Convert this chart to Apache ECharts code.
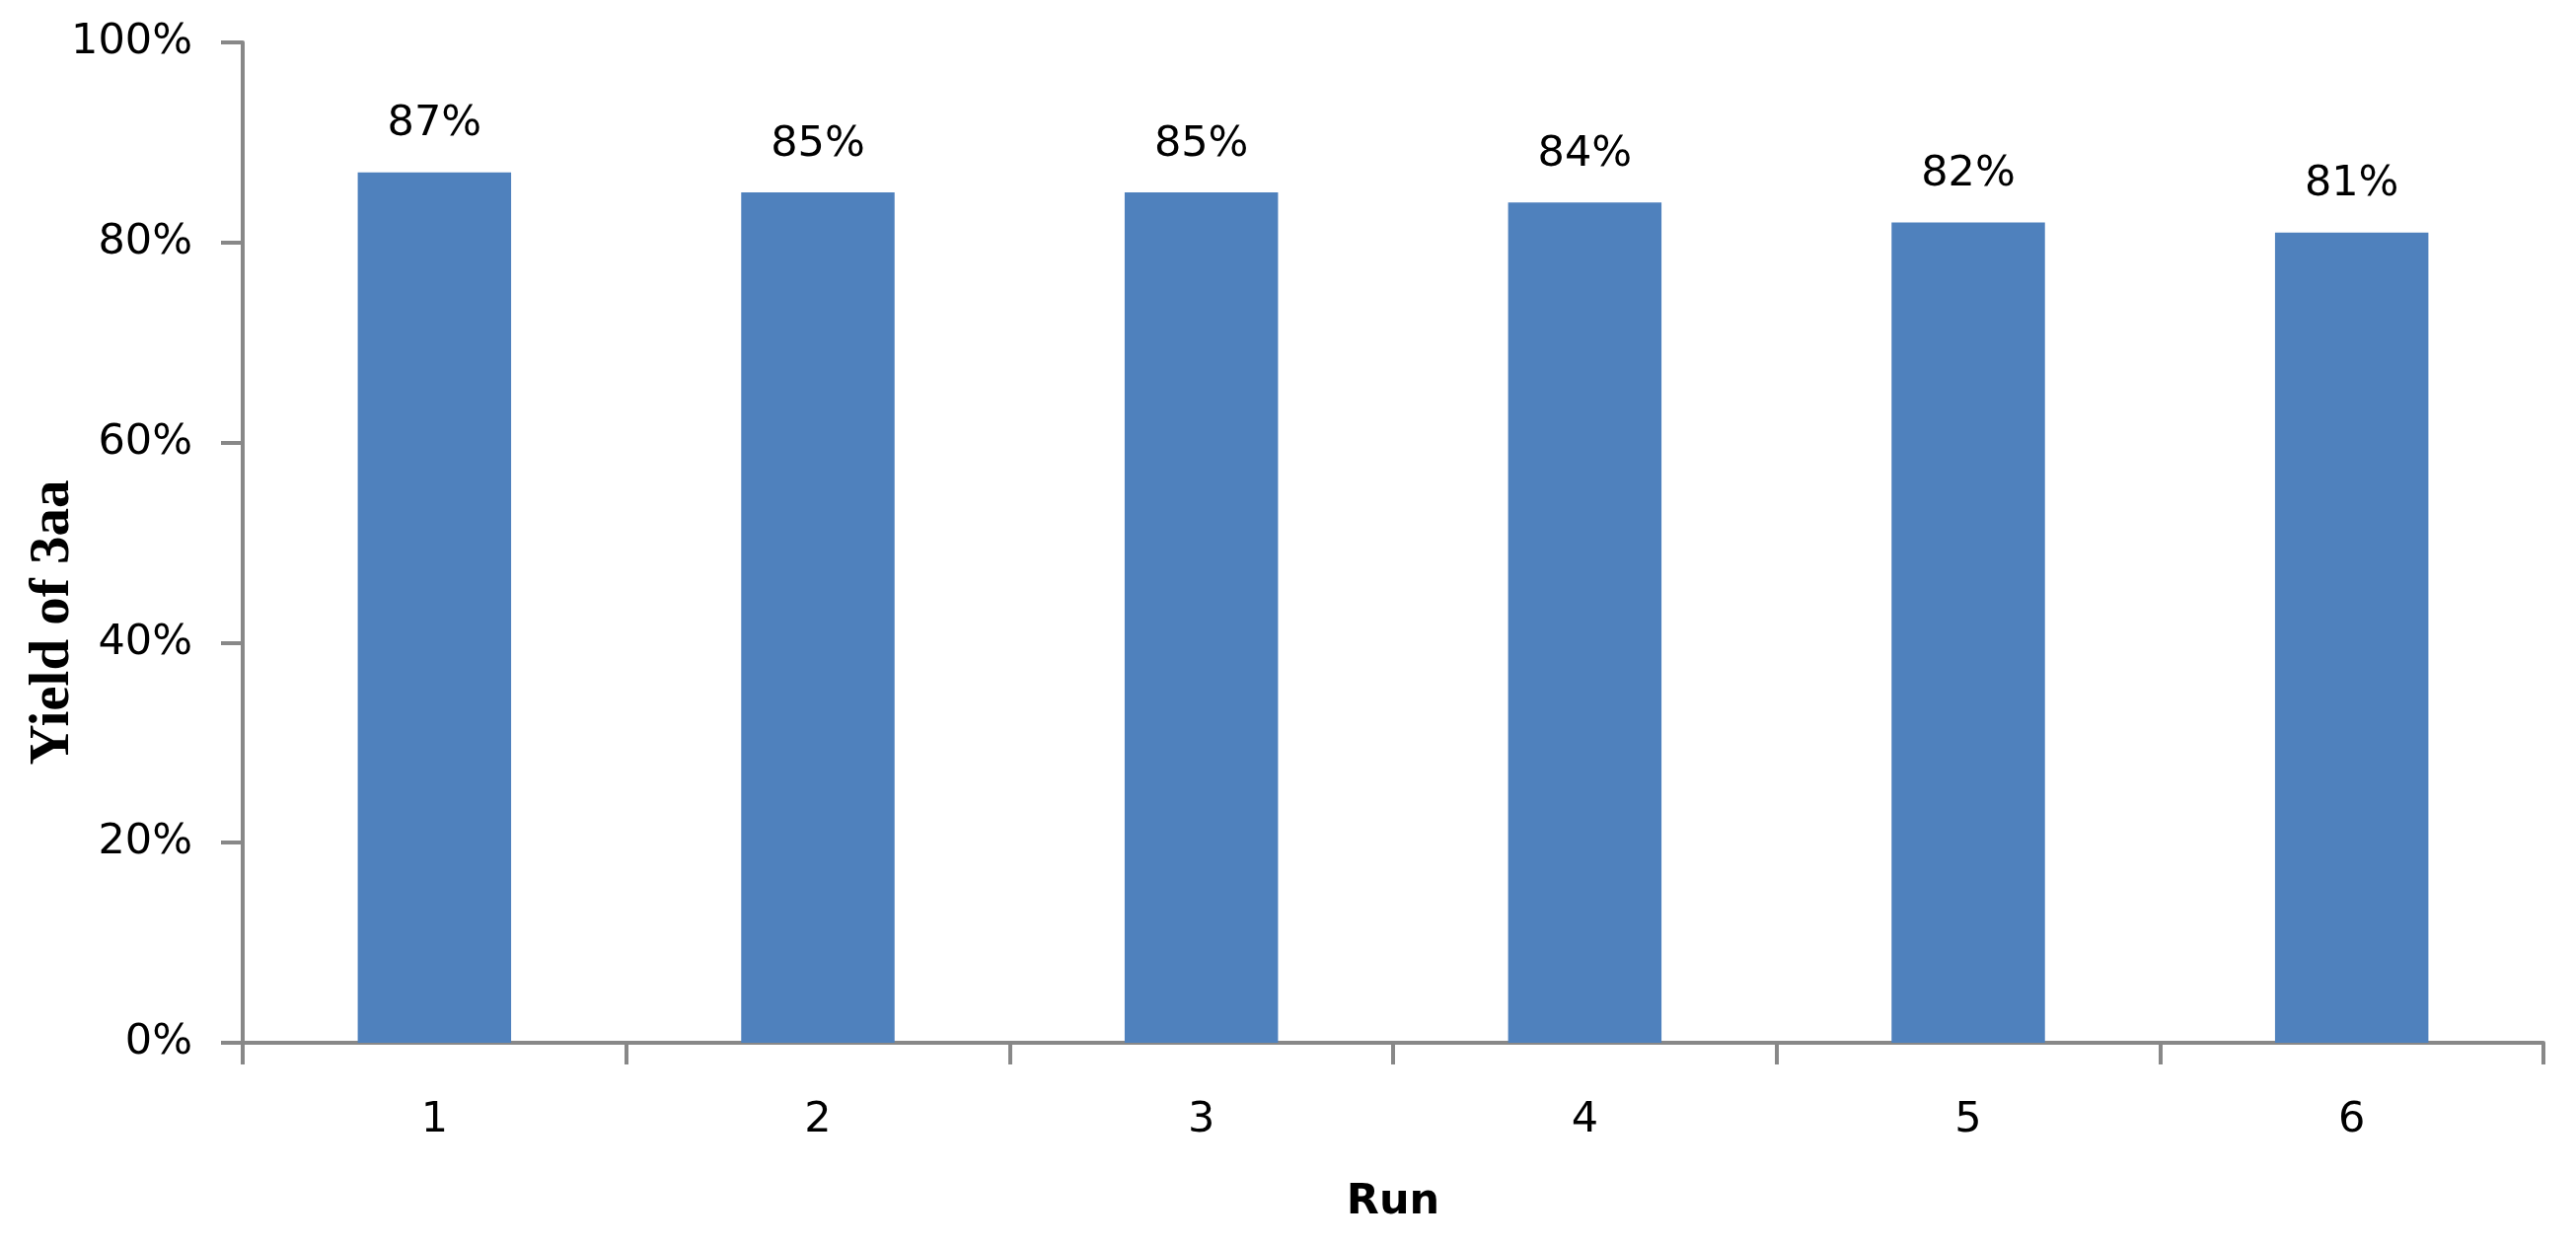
<!DOCTYPE html>
<html>
<head>
<meta charset="utf-8">
<script src="https://cdn.jsdelivr.net/npm/echarts@6/dist/echarts.min.js"></script>
<style>
html,body{margin:0;padding:0;background:#fff;}
#chart{width:2611px;height:1262px;}
</style>
</head>
<body>
<div id="chart"></div>
<script>
const categories = ['1', '2', '3', '4', '5', '6'];
const yields = [0.87, 0.85, 0.85, 0.84, 0.82, 0.81];
const yTicks = { min: 0, max: 1, interval: 0.2 };
const xTitle = 'Run';
const yTitle = 'Yield of 3aa';

const chart = echarts.init(document.getElementById('chart'));
const axisGrey = '#888888';
const pct = v => Math.round(v * 100) + '%';

chart.setOption({
  animation: false,
  backgroundColor: '#ffffff',
  grid: { left: 246, right: 33, top: 43, bottom: 205, containLabel: false },
  xAxis: {
    type: 'category',
    data: categories,
    boundaryGap: true,
    name: xTitle,
    nameLocation: 'middle',
    nameGap: 140,
    nameTextStyle: { fontFamily: 'DejaVu Sans', fontWeight: 'bold', fontSize: 43, color: '#000' },
    axisLine: { lineStyle: { color: axisGrey, width: 4 } },
    axisTick: { show: true, length: 22, lineStyle: { color: axisGrey, width: 4 } },
    axisLabel: { fontFamily: 'DejaVu Sans', fontSize: 43, color: '#000', margin: 57 },
    splitLine: { show: false }
  },
  yAxis: {
    type: 'value',
    min: yTicks.min,
    max: yTicks.max,
    interval: yTicks.interval,
    axisLine: { show: true, lineStyle: { color: axisGrey, width: 4 } },
    axisTick: { show: true, length: 22, lineStyle: { color: axisGrey, width: 4 } },
    axisLabel: { fontFamily: 'DejaVu Sans', fontSize: 43, color: '#000', margin: 51, formatter: pct },
    splitLine: { show: false }
  },
  graphic: [{
    type: 'text',
    left: 26,
    top: 'middle',
    rotation: Math.PI / 2,
    style: {
      text: yTitle,
      font: 'bold 57px "Liberation Serif"',
      fill: '#000',
      align: 'center',
      verticalAlign: 'middle'
    }
  }],
  series: [{
    type: 'bar',
    data: yields,
    barWidth: '40%',
    itemStyle: { color: '#4F81BD' },
    label: {
      show: true,
      position: 'top',
      distance: 27,
      formatter: p => pct(p.value),
      fontFamily: 'DejaVu Sans',
      fontSize: 43,
      color: '#000'
    }
  }]
});
</script>
</body>
</html>
